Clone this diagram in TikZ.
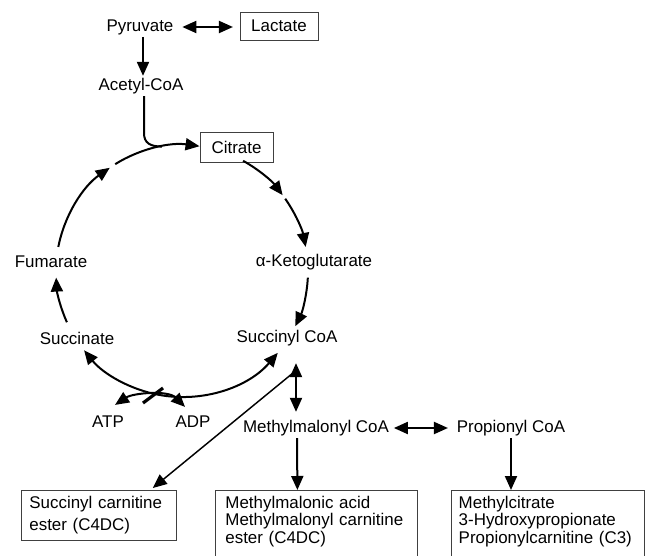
\documentclass[tikz,border=0pt]{standalone}
\usepackage{fontspec}
\setmainfont{Liberation Sans}
\usetikzlibrary{arrows.meta}
\begin{document}
\begin{tikzpicture}[x=0.75pt, y=0.75pt,
    every node/.style={font=\fontsize{12.7pt}{13.3pt}\selectfont, inner sep=1.5pt},
    flow/.style={line width=1.5pt, -{Triangle[length=10.5pt,width=9pt]}},
    both/.style={line width=1.5pt, {Triangle[length=10.5pt,width=9pt]}-{Triangle[length=10.5pt,width=9pt]}},
    box/.style={draw=black!75, line width=0.6pt, inner xsep=6pt, inner ysep=4pt, align=left}]
    \useasboundingbox (0,0) rectangle (646,-556);
    \clip (0,0) rectangle (646,-556);

    % pyruvate / lactate / acetyl-CoA
    \node (pyr) at (140,-27) {Pyruvate};
    \node[box, align=center, minimum width=58.5pt, minimum height=21pt] (lac) at (279,-26) {Lactate};
    \node (acoa) at (141,-86) {Acetyl-CoA};
    \draw[both, shorten <=5pt, shorten >=5pt] (pyr.east) -- (pyr.east -| lac.west);
    \draw[flow] ([shift={(3,0)}]pyr.south) -- ([shift={(2,0)}]acoa.north);

    % TCA cycle labels
    \node[box, align=center, minimum width=54.75pt, minimum height=22.5pt] (cit) at (236.5,-147) {Citrate};
    \node (akg) at (314,-262) {α-Ketoglutarate};
    \node (fum) at (51,-262) {Fumarate};
    \node (suc) at (77,-338) {Succinate};
    \node (succoa) at (287,-338) {Succinyl CoA};
    \node (atp) at (108,-422) {ATP};
    \node (adp) at (193,-422) {ADP};

    % cycle arcs
    \coordinate (krebs) at (182,-271);
    \foreach \a/\b in {61/37, 35/11, -3/-26, 204/183, 169/125, 122/82}
      \draw[flow] ([shift={(\a:126)}]krebs) arc[start angle=\a, end angle=\b, radius=126];
    \draw[both] ([shift={(319.5:126)}]krebs) arc[start angle=319.5, end angle=219, radius=126];
    \draw[line width=1.5pt] ([shift={(3,0)}]acoa.south) -- (144,-133)
      .. controls (144,-143) and (150,-146.5) .. (162,-146.6);

    % ATP / ADP
    \draw[both] ([shift={(7,9)}]atp.north) .. controls (133,-393) and (168,-390) .. ([shift={(-8,7)}]adp.north);
    \draw[line width=2.4pt] (143,-403) -- (163,-388);

    % propionate pathway
    \node (mmcoa) at (316,-428) {Methylmalonyl CoA};
    \node (prop) at (511,-428) {Propionyl CoA};
    \draw[both, shorten <=2pt, shorten >=5pt] (mmcoa.east) -- (prop.west);
    \draw[both] ([shift={(9,-15)}]succoa.south) -- ([shift={(-20,6)}]mmcoa.north);

    % metabolites
    \node[box, anchor=north west, text width=104.25pt, minimum height=37.5pt] (sce) at (21,-490)
      {Succinyl carnitine\\[3pt]ester (C4DC)};
    \node[box, anchor=north west, inner xsep=7.5pt, text width=136.5pt] (mma) at (215,-490)
      {Methylmalonic acid\\Methylmalonyl carnitine\\ester (C4DC)\\[14pt]\mbox{}};
    \node[box, anchor=north west, inner xsep=5.5pt, text width=133.75pt] (mcit) at (451,-490)
      {Methylcitrate\\3-Hydroxypropionate\\Propionylcarnitine (C3)\\[14pt]\mbox{}};
    \draw[flow, line width=1.1pt] ([shift={(7,-24)}]succoa.south) -- ([shift={(-24,2)}]sce.north east);
    \draw[flow] ([shift={(-19,0)}]mmcoa.south) -- ([shift={(-19,0)}]mma.north);
    \draw[flow] (prop.south) -- (prop.south |- mcit.north);
\end{tikzpicture}
\end{document}
